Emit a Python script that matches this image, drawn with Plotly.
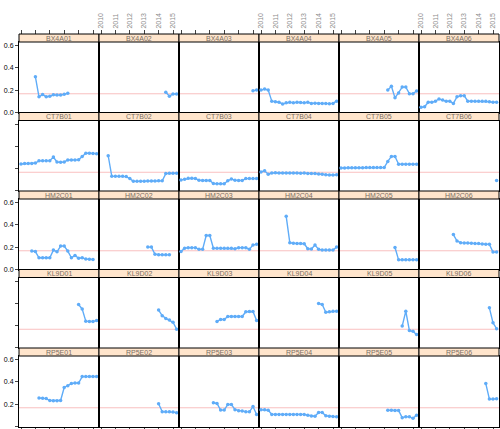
import plotly.graph_objects as go

# ---------------- data ----------------
STRIP_LABELS = [
    ["BX4A01", "BX4A02", "BX4A03", "BX4A04", "BX4A05", "BX4A06"],
    ["CT7B01", "CT7B02", "CT7B03", "CT7B04", "CT7B05", "CT7B06"],
    ["HM2C01", "HM2C02", "HM2C03", "HM2C04", "HM2C05", "HM2C06"],
    ["KL9D01", "KL9D02", "KL9D03", "KL9D04", "KL9D05", "KL9D06"],
    ["RP5E01", "RP5E02", "RP5E03", "RP5E04", "RP5E05", "RP5E06"],
]
YEAR_TICKS = [2010, 2011, 2012, 2013, 2014, 2015]
Y_TICKS = [0.0, 0.2, 0.4, 0.6]
REF_LEVEL = 0.167

# first quarter index of each series (quarters after 2010 Q1)
ROW1_START = [4, 18, 20, 0, 13, 0]
ROW1_VALUES = [
    [0.32, 0.14, 0.16, 0.14, 0.145, 0.158, 0.155, 0.155, 0.162, 0.172],
    [0.18, 0.145, 0.165, 0.165],
    [0.195, 0.2],
    [0.2, 0.21, 0.2, 0.1, 0.095, 0.09, 0.075, 0.085, 0.09, 0.085, 0.09, 0.088,
     0.085, 0.09, 0.08, 0.082, 0.08, 0.08, 0.08, 0.078, 0.08, 0.1],
    [0.2, 0.235, 0.13, 0.175, 0.227, 0.227, 0.168, 0.168, 0.192],
    [0.045, 0.05, 0.09, 0.09, 0.1, 0.12, 0.11, 0.1, 0.1, 0.08, 0.14, 0.15,
     0.15, 0.1, 0.1, 0.1, 0.1, 0.1, 0.1, 0.095, 0.09, 0.09],
]
ROW2_START = [0, 2, 0, 0, 0, 21]
ROW2_VALUES = [
    [0.242, 0.245, 0.245, 0.247, 0.25, 0.27, 0.27, 0.27, 0.272, 0.305, 0.26,
     0.258, 0.26, 0.278, 0.278, 0.278, 0.28, 0.31, 0.338, 0.338, 0.337, 0.335],
    [0.316, 0.13, 0.13, 0.13, 0.13, 0.128, 0.11, 0.085, 0.085, 0.087, 0.087,
     0.088, 0.088, 0.088, 0.09, 0.09, 0.155, 0.158, 0.158, 0.158],
    [0.098, 0.105, 0.112, 0.113, 0.11, 0.095, 0.093, 0.093, 0.093, 0.065,
     0.063, 0.063, 0.063, 0.09, 0.107, 0.095, 0.093, 0.093, 0.11, 0.11, 0.11, 0.11],
    [0.17, 0.18, 0.15, 0.16, 0.162, 0.16, 0.16, 0.16, 0.16, 0.16, 0.16, 0.158,
     0.16, 0.157, 0.155, 0.155, 0.152, 0.148, 0.145, 0.143, 0.143, 0.145],
    [0.205, 0.205, 0.207, 0.207, 0.208, 0.208, 0.208, 0.209, 0.209, 0.209,
     0.21, 0.21, 0.21, 0.265, 0.31, 0.31, 0.24, 0.24, 0.24, 0.24, 0.24, 0.24],
    [0.093],
]
ROW3_START = [3, 13, 0, 7, 15, 9]
ROW3_VALUES = [
    [0.164, 0.16, 0.104, 0.104, 0.104, 0.104, 0.173, 0.158, 0.209, 0.21,
     0.164, 0.104, 0.125, 0.1, 0.104, 0.092, 0.09, 0.088],
    [0.2, 0.2, 0.135, 0.13, 0.13, 0.13, 0.13],
    [0.16, 0.19, 0.195, 0.195, 0.195, 0.18, 0.18, 0.305, 0.305, 0.19, 0.19,
     0.19, 0.19, 0.19, 0.19, 0.185, 0.195, 0.195, 0.195, 0.18, 0.22, 0.225],
    [0.478, 0.24, 0.235, 0.233, 0.232, 0.23, 0.185, 0.183, 0.218, 0.18, 0.175,
     0.173, 0.173, 0.173, 0.2],
    [0.197, 0.085, 0.085, 0.085, 0.087, 0.087, 0.087],
    [0.313, 0.255, 0.24, 0.238, 0.236, 0.235, 0.233, 0.232, 0.228, 0.225,
     0.225, 0.155, 0.155],
]
ROW4_START = [16, 16, 10, 16, 17, 19]
ROW4_VALUES = [
    [0.39, 0.35, 0.24, 0.237, 0.237, 0.245],
    [0.34, 0.29, 0.265, 0.25, 0.23, 0.168],
    [0.237, 0.255, 0.255, 0.282, 0.282, 0.282, 0.282, 0.282, 0.325, 0.327,
     0.327, 0.246],
    [0.4, 0.39, 0.32, 0.325, 0.33, 0.33],
    [0.196, 0.33, 0.155, 0.148, 0.12],
    [0.36, 0.225, 0.172],
]
ROW5_START = [5, 16, 9, 0, 13, 18]
ROW5_VALUES = [
    [0.255, 0.252, 0.25, 0.232, 0.23, 0.23, 0.232, 0.35, 0.365, 0.385, 0.39,
     0.39, 0.448, 0.45, 0.45, 0.45, 0.448],
    [0.203, 0.132, 0.13, 0.13, 0.128, 0.122],
    [0.212, 0.206, 0.146, 0.146, 0.197, 0.197, 0.15, 0.14, 0.137, 0.132,
     0.13, 0.178, 0.107],
    [0.148, 0.148, 0.145, 0.107, 0.107, 0.107, 0.107, 0.107, 0.107, 0.107,
     0.107, 0.107, 0.107, 0.1, 0.092, 0.09, 0.125, 0.125, 0.095, 0.09, 0.088, 0.087],
    [0.145, 0.145, 0.143, 0.143, 0.078, 0.087, 0.085, 0.072, 0.1],
    [0.385, 0.245, 0.245, 0.248],
]

STARTS = [ROW1_START, ROW2_START, ROW3_START, ROW4_START, ROW5_START]
VALUES = [ROW1_VALUES, ROW2_VALUES, ROW3_VALUES, ROW4_VALUES, ROW5_VALUES]

# ---------------- layout geometry ----------------
W, H = 500, 429
LEFT, COLW = 19, 80
TOP, STRIP, ROWH = 34, 8, 78.5
NROW, NCOL = 5, 6
XRANGE = [2009.861, 2015.417]
YRANGE = [-0.002, 0.634]
FONT = "Liberation Sans, Arial, sans-serif"
BLUE = "rgb(95,172,248)"


def py(y):
    return 1 - y / H


fig = go.Figure()
layout = dict(
    width=W, height=H, margin=dict(l=0, r=0, t=0, b=0, autoexpand=False),
    paper_bgcolor="white", plot_bgcolor="rgba(0,0,0,0)", showlegend=False,
    font=dict(family=FONT, size=7, color="black"),
)
shapes = []
annotations = []

for r in range(NROW):
    strip_top = TOP + r * ROWH
    strip_bot = strip_top + STRIP
    panel_bot = strip_top + ROWH
    for c in range(NCOL):
        n = r * NCOL + c + 1
        xa = "xaxis" if n == 1 else f"xaxis{n}"
        ya = "yaxis" if n == 1 else f"yaxis{n}"
        xr = "x" if n == 1 else f"x{n}"
        yr = "y" if n == 1 else f"y{n}"
        x0p = (LEFT + c * COLW) / W
        x1p = (LEFT + (c + 1) * COLW) / W
        layout[xa] = dict(
            domain=[x0p, x1p], range=XRANGE, anchor=yr, automargin=False,
            showgrid=False, zeroline=False, showline=True, mirror=True,
            linecolor="black", linewidth=1,
            ticks="outside" if r == NROW - 1 else "", ticklen=4,
            tickvals=YEAR_TICKS, showticklabels=False,
        )
        layout[ya] = dict(
            domain=[py(panel_bot), py(strip_bot)], range=YRANGE, anchor=xr,
            automargin=False,
            showgrid=False, zeroline=False, showline=True, mirror=True,
            linecolor="black", linewidth=1,
            ticks="outside" if c == 0 else "", ticklen=3,
            tickvals=Y_TICKS, ticktext=[f"{v:.1f}" for v in Y_TICKS],
            showticklabels=(c == 0 and r % 2 == 0),
            tickfont=dict(size=7, family=FONT, color="black"),
        )
        # reference line
        shapes.append(dict(
            type="line", xref=f"{xr} domain", yref=yr, x0=0, x1=1,
            y0=REF_LEVEL, y1=REF_LEVEL, layer="below",
            line=dict(color="rgba(240,90,90,0.38)", width=1),
        ))
        # strip
        shapes.append(dict(
            type="rect", xref="paper", yref="paper",
            x0=x0p, x1=x1p, y0=py(strip_bot), y1=py(strip_top),
            fillcolor="#ffe5cc", line=dict(color="black", width=1), layer="above",
        ))
        annotations.append(dict(
            x=(x0p + x1p) / 2, y=py(strip_top + STRIP / 2), xref="paper", yref="paper",
            text=STRIP_LABELS[r][c], showarrow=False,
            font=dict(size=7, family=FONT, color="#7a6e64"),
            xanchor="center", yanchor="middle",
        ))
        # data
        vals = VALUES[r][c]
        start = STARTS[r][c]
        xs = [2010 + 0.25 * (start + i) for i in range(len(vals))]
        fig.add_trace(go.Scatter(
            x=xs, y=vals, xaxis=xr, yaxis=yr, mode="lines+markers",
            line=dict(color=BLUE, width=1.4),
            marker=dict(color=BLUE, size=3.5),
            hoverinfo="skip", cliponaxis=True,
        ))

# top tick axes above the first strip row
for c in range(NCOL):
    k = NROW * NCOL + c + 1
    x0p = (LEFT + c * COLW) / W
    x1p = (LEFT + (c + 1) * COLW) / W
    layout[f"xaxis{k}"] = dict(
        domain=[x0p, x1p], range=XRANGE, anchor="free", position=py(TOP),
        side="top", showgrid=False, zeroline=False, showline=False,
        automargin=False,
        ticks="outside", ticklen=4, tickvals=YEAR_TICKS,
        ticktext=[str(v) for v in YEAR_TICKS],
        showticklabels=(c % 2 == 1), tickangle=-90,
        tickfont=dict(size=7, family=FONT, color="#8c8c8c"),
    )
    fig.add_trace(go.Scatter(
        x=[YEAR_TICKS[0]], y=[None], xaxis=f"x{k}", yaxis="y",
        mode="lines", hoverinfo="skip", showlegend=False,
    ))

layout["shapes"] = shapes
layout["annotations"] = annotations
fig.update_layout(**layout)
fig.write_html(
    "out.html",
    config={"displayModeBar": False, "staticPlot": True},
    post_script="document.body.style.margin='0';document.body.style.overflow='hidden';",
)
